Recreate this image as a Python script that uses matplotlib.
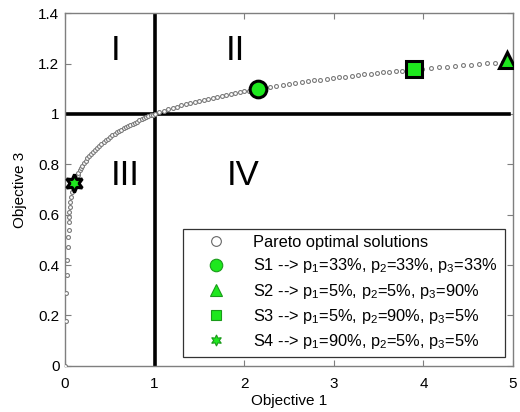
import matplotlib
matplotlib.use("Agg")
import matplotlib.pyplot as plt
from matplotlib.lines import Line2D

plt.rcParams['font.family'] = ['Liberation Sans', 'DejaVu Sans']
plt.rcParams['mathtext.fontset'] = 'custom'
plt.rcParams['mathtext.rm'] = 'Liberation Sans'
plt.rcParams['mathtext.it'] = 'Liberation Sans'
plt.rcParams['mathtext.default'] = 'regular'

# Pareto front (Objective 1 vs Objective 3)
pareto_x = [
    0.00, 0.01, 0.01, 0.02, 0.02, 0.03, 0.03, 0.04, 0.04, 0.05, 0.05, 0.06, 0.06, 0.07, 0.08, 0.09, 0.10,
    0.11, 0.12, 0.13, 0.14, 0.15, 0.165, 0.18, 0.195, 0.21, 0.23, 0.25, 0.27, 0.29, 0.31, 0.33,
    0.355, 0.38, 0.405, 0.43, 0.455, 0.48, 0.505, 0.53, 0.555, 0.58, 0.605, 0.63, 0.655, 0.68,
    0.705, 0.73, 0.755, 0.78, 0.805, 0.83, 0.855, 0.88, 0.905, 0.93, 0.955, 0.98, 1.00,
    1.05, 1.10, 1.15, 1.20, 1.25, 1.30, 1.35, 1.40, 1.45, 1.50, 1.55, 1.60, 1.65, 1.70, 1.75,
    1.80, 1.85, 1.90, 1.95, 2.00, 2.05, 2.10,
    2.22, 2.29, 2.36, 2.43, 2.50, 2.57, 2.64, 2.71, 2.78, 2.85, 2.92, 2.99, 3.06, 3.13, 3.20,
    3.27, 3.34, 3.41, 3.48, 3.55, 3.62, 3.69, 3.76, 3.83, 3.90,
    3.99, 4.08, 4.17, 4.26, 4.35, 4.44, 4.53, 4.62, 4.71, 4.80, 4.89,
]
pareto_y = [
    0.00, 0.18, 0.29, 0.36, 0.42, 0.47, 0.51, 0.54, 0.57, 0.59, 0.61, 0.63, 0.65, 0.67, 0.69, 0.71, 0.725,
    0.734, 0.743, 0.752, 0.759, 0.767, 0.777, 0.787, 0.795, 0.804, 0.814, 0.824, 0.833, 0.841, 0.849, 0.856,
    0.865, 0.873, 0.881, 0.889, 0.896, 0.902, 0.909, 0.915, 0.921, 0.927, 0.932, 0.937, 0.943, 0.947,
    0.952, 0.957, 0.961, 0.966, 0.970, 0.974, 0.978, 0.982, 0.986, 0.990, 0.994, 0.997, 1.000,
    1.006, 1.012, 1.018, 1.024, 1.029, 1.034, 1.039, 1.044, 1.048, 1.053, 1.057, 1.061, 1.065, 1.069, 1.073,
    1.076, 1.080, 1.083, 1.087, 1.090, 1.093, 1.096,
    1.104, 1.108, 1.112, 1.115, 1.119, 1.123, 1.126, 1.130, 1.133, 1.136, 1.139, 1.142, 1.145, 1.148, 1.151,
    1.154, 1.157, 1.159, 1.162, 1.165, 1.167, 1.170, 1.172, 1.175, 1.177,
    1.180, 1.183, 1.186, 1.188, 1.191, 1.194, 1.196, 1.199, 1.201, 1.204, 1.206,
]

# Selected solutions
sol_names = ['S1', 'S2', 'S3', 'S4']
sol_x = [2.15, 4.93, 3.90, 0.10]
sol_y = [1.10, 1.215, 1.177, 0.727]
sol_markers = ['o', '^', 's', (6, 1, 0)]
sol_labels = [
    'S1 --> p$_1$=33%, p$_2$=33%, p$_3$=33%',
    'S2 --> p$_1$=5%, p$_2$=5%, p$_3$=90%',
    'S3 --> p$_1$=5%, p$_2$=90%, p$_3$=5%',
    'S4 --> p$_1$=90%, p$_2$=5%, p$_3$=5%',
]

quad_labels = ['I', 'II', 'III', 'IV']
quad_x = [0.56, 1.90, 0.67, 1.99]
quad_y = [1.25, 1.25, 0.755, 0.755]

green = '#1ee81e'
gray = '#7f7f7f'

fig = plt.figure(figsize=(5.2, 4.12), dpi=100)
ax = fig.add_axes([0.125, 0.112, 0.8615, 0.856])

# quadrant dividers
ax.plot([1, 1], [0, 1.4], color='black', lw=2.6, zorder=2)
ax.plot([0, 4.96], [1, 1], color='black', lw=2.6, zorder=2)

ax.plot(pareto_x, pareto_y, linestyle='none', marker='o', markersize=2.8,
        markerfacecolor='white', markeredgecolor='#7a7a7a', markeredgewidth=0.8, zorder=3)

sizes = [12, 12, 11, 13]
for mx, my, mk, ms in zip(sol_x, sol_y, sol_markers, sizes):
    ax.plot(mx, my, linestyle='none', marker=mk, markersize=ms,
            markerfacecolor=green, markeredgecolor='black', markeredgewidth=2.2, zorder=4)

for t, tx, ty in zip(quad_labels, quad_x, quad_y):
    ax.text(tx, ty, t, fontsize=25, ha='center', va='center')

ax.set_xlim(0, 5)
ax.set_ylim(0, 1.4)
ax.set_xticks([0, 1, 2, 3, 4, 5])
ax.set_yticks([0, 0.2, 0.4, 0.6, 0.8, 1.0, 1.2, 1.4])
ax.set_yticklabels(['0', '0.2', '0.4', '0.6', '0.8', '1', '1.2', '1.4'])
ax.tick_params(direction='in', top=True, right=True, length=4, width=0.8,
               color=gray, labelsize=11)
ax.tick_params(axis='x', pad=8)
ax.tick_params(axis='y', pad=4)
for s in ax.spines.values():
    s.set_color(gray)
    s.set_linewidth(1.0)
ax.set_xlabel('Objective 1', fontsize=11, labelpad=2)
ax.set_ylabel('Objective 3', fontsize=11, labelpad=8)

handles = [Line2D([0], [0], linestyle='none', marker='o', markersize=7,
                  markerfacecolor='white', markeredgecolor='#666666', markeredgewidth=0.8)]
leg_sizes = [9, 8, 7, 8]
for mk, ms in zip(sol_markers, leg_sizes):
    handles.append(Line2D([0], [0], linestyle='none', marker=mk, markersize=ms,
                          markerfacecolor=green, markeredgecolor='#1a9a1a', markeredgewidth=0.8))
labels = ['Pareto optimal solutions'] + sol_labels
leg = ax.legend(handles, labels, loc='lower left', bbox_to_anchor=(0.263, 0.0255, 0.719, 0.394),
                mode='expand', borderaxespad=0, fancybox=False, fontsize=11.8, labelspacing=0.38,
                handletextpad=0.55, borderpad=0.35, handlelength=3.4, framealpha=1)
leg.get_frame().set_edgecolor('#333333')
leg.get_frame().set_linewidth(0.9)

fig.savefig('out.png', dpi=100)
plt.close(fig)
